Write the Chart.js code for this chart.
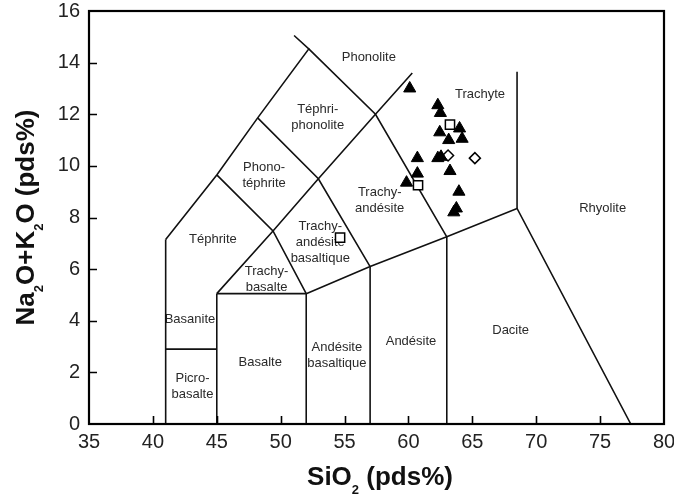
<!DOCTYPE html>
<html>
<head>
<meta charset="utf-8">
<script src="https://cdn.jsdelivr.net/npm/chart.js@4.4.0/dist/chart.umd.min.js"></script>
<style>
  html, body { margin: 0; padding: 0; background: #fff; }
</style>
</head>
<body>
<canvas id="tasChart" width="674" height="499"></canvas>
<script>
// axis ticks
const xTicks = [35, 40, 45, 50, 55, 60, 65, 70, 75, 80];
const yTicks = [0, 2, 4, 6, 8, 10, 12, 14, 16];

// TAS field boundaries (SiO2, Na2O+K2O)
const boundaries = [
  [[41, 0], [41, 7.15]],
  [[41, 2.9], [45, 2.9]],
  [[45, 0], [45, 5.05]],
  [[45, 5.05], [52, 5.05]],
  [[52, 0], [52, 5.05]],
  [[57, 0], [57, 6.1]],
  [[63, 0], [63, 7.25]],
  [[52, 5.05], [57, 6.1], [63, 7.25], [68.5, 8.35], [77.4, 0]],
  [[68.5, 8.35], [68.5, 13.65]],
  [[45, 5.05], [49.4, 7.48], [52.95, 9.5], [57.42, 12.0], [60.3, 13.6]],
  [[41, 7.15], [45, 9.65], [48.2, 11.86], [52.2, 14.53], [51.05, 15.05]],
  [[45, 9.65], [49.4, 7.48], [52, 5.05]],
  [[48.2, 11.86], [52.95, 9.5], [57, 6.1]],
  [[52.2, 14.53], [57.42, 12.0], [63, 7.25]]
];

// field names and where they sit
const fieldNames = [
  ['Phonolite'], ['Téphri-', 'phonolite'], ['Trachyte'], ['Phono-', 'téphrite'],
  ['Trachy-', 'andésite'], ['Rhyolite'], ['Téphrite'], ['Trachy-', 'andésite', 'basaltique'],
  ['Trachy-', 'basalte'], ['Basanite'], ['Basalte'], ['Andésite', 'basaltique'],
  ['Andésite'], ['Dacite'], ['Picro-', 'basalte']
];
const fieldPos = [
  [56.9, 14.2], [52.9, 11.88], [65.6, 12.75], [48.7, 9.63],
  [57.75, 8.68], [75.2, 8.37], [44.7, 7.17], [53.1, 7.05],
  [48.9, 5.62], [42.9, 4.07], [48.4, 2.4], [54.4, 2.65],
  [60.2, 3.2], [68.0, 3.64], [43.1, 1.45]
];

// samples
const triangles = [
  [60.1, 13.0], [62.3, 12.35], [62.5, 12.05], [62.45, 11.3], [64.0, 11.45],
  [63.15, 11.0], [64.2, 11.05], [60.7, 10.3], [62.3, 10.3], [62.55, 10.35],
  [60.7, 9.7], [59.85, 9.35], [63.25, 9.8], [63.95, 9.0], [63.75, 8.35], [63.55, 8.2]
];
const squares = [[63.25, 11.6], [60.75, 9.25], [54.65, 7.22]];
const diamonds = [[63.1, 10.4], [65.2, 10.3]];

const FONT = '"Liberation Sans", Arial, sans-serif';
const toXY = arr => arr.map(p => ({x: p[0], y: p[1]}));

const lineSets = boundaries.map(b => ({
  data: toXY(b),
  showLine: true,
  borderColor: '#111',
  borderWidth: 1.6,
  pointRadius: 0,
  fill: false,
  tension: 0,
  order: 2
}));

const pointSets = [
  {data: toXY(triangles), pointStyle: 'triangle', pointRadius: 7,
   backgroundColor: '#000', borderColor: '#000', borderWidth: 1, order: 0},
  {data: toXY(squares), pointStyle: 'rect', pointRadius: 6.5,
   backgroundColor: '#fff', borderColor: '#000', borderWidth: 1.5, order: 0},
  {data: toXY(diamonds), pointStyle: 'rectRot', pointRadius: 5.5,
   backgroundColor: '#fff', borderColor: '#000', borderWidth: 1.5, order: 0}
];

// draw text runs with subscripts, centred on x=0 at the baseline
function drawRuns(ctx, runs, big, small, drop) {
  let total = 0;
  runs.forEach(r => {
    ctx.font = (r.sub ? small : big) + 'px ' + FONT;
    total += ctx.measureText(r.t).width;
  });
  let x = -total / 2;
  runs.forEach(r => {
    ctx.font = (r.sub ? small : big) + 'px ' + FONT;
    ctx.fillText(r.t, x, r.sub ? drop : 0);
    x += ctx.measureText(r.t).width;
  });
}

const tasPlugin = {
  id: 'tas',
  beforeDatasetsDraw(chart) {
    const {ctx, scales: {x, y}} = chart;
    ctx.save();
    ctx.fillStyle = '#2a2a2a';
    ctx.font = '13px ' + FONT;
    ctx.textAlign = 'center';
    ctx.textBaseline = 'middle';
    fieldNames.forEach((lines, i) => {
      const px = x.getPixelForValue(fieldPos[i][0]);
      const py = y.getPixelForValue(fieldPos[i][1]);
      lines.forEach((s, k) => {
        ctx.fillText(s, px, py + (k - (lines.length - 1) / 2) * 16);
      });
    });
    ctx.restore();
  },
  afterDraw(chart) {
    const {ctx, chartArea: a, scales: {x, y}} = chart;
    ctx.save();
    ctx.strokeStyle = '#000';
    ctx.lineWidth = 1.6;
    ctx.beginPath();
    xTicks.slice(1, -1).forEach(v => {
      const px = Math.round(x.getPixelForValue(v)) + 0.5;
      ctx.moveTo(px, a.bottom);
      ctx.lineTo(px, a.bottom - 8);
    });
    yTicks.slice(1, -1).forEach(v => {
      const py = Math.round(y.getPixelForValue(v)) + 0.5;
      ctx.moveTo(a.left, py);
      ctx.lineTo(a.left + 8, py);
    });
    ctx.stroke();
    ctx.lineWidth = 2.2;
    ctx.strokeRect(a.left, a.top, a.right - a.left, a.bottom - a.top);

    // axis titles
    ctx.fillStyle = '#111';
    ctx.textAlign = 'left';
    ctx.textBaseline = 'alphabetic';
    ctx.save();
    ctx.translate(380, 485);
    drawRuns(ctx, [{t: 'SiO'}, {t: '2', sub: true}, {t: ' (pds%)'}], 'bold 26', 'bold 13', 9);
    ctx.restore();
    ctx.save();
    ctx.translate(34, (a.top + a.bottom) / 2);
    ctx.rotate(-Math.PI / 2);
    drawRuns(ctx, [{t: 'Na'}, {t: '2', sub: true}, {t: 'O+K'}, {t: '2', sub: true}, {t: 'O (pds%)'}],
      'bold 26', 'bold 13', 9);
    ctx.restore();
    ctx.restore();
  }
};

const ctx = document.getElementById('tasChart').getContext('2d');
new Chart(ctx, {
  type: 'scatter',
  data: {datasets: [...pointSets, ...lineSets]},
  options: {
    responsive: false,
    animation: false,
    devicePixelRatio: 1,
    layout: {padding: {top: 11, right: 10, left: 0, bottom: 0}},
    plugins: {legend: {display: false}, tooltip: {enabled: false}},
    scales: {
      x: {
        type: 'linear', min: 35, max: 80,
        afterBuildTicks: s => { s.ticks = xTicks.map(v => ({value: v})); },
        afterFit: s => { s.height = 75; s.paddingLeft = 0; s.paddingRight = 0; },
        grid: {display: false, drawTicks: false},
        border: {display: false},
        ticks: {font: {family: FONT, size: 20}, color: '#222', padding: 6, maxRotation: 0}
      },
      y: {
        type: 'linear', min: 0, max: 16,
        afterBuildTicks: s => { s.ticks = yTicks.map(v => ({value: v})); },
        afterFit: s => { s.width = 89; s.paddingTop = 0; s.paddingBottom = 0; },
        grid: {display: false, drawTicks: false},
        border: {display: false},
        ticks: {font: {family: FONT, size: 20}, color: '#222', padding: 9}
      }
    }
  },
  plugins: [tasPlugin]
});
</script>
</body>
</html>
